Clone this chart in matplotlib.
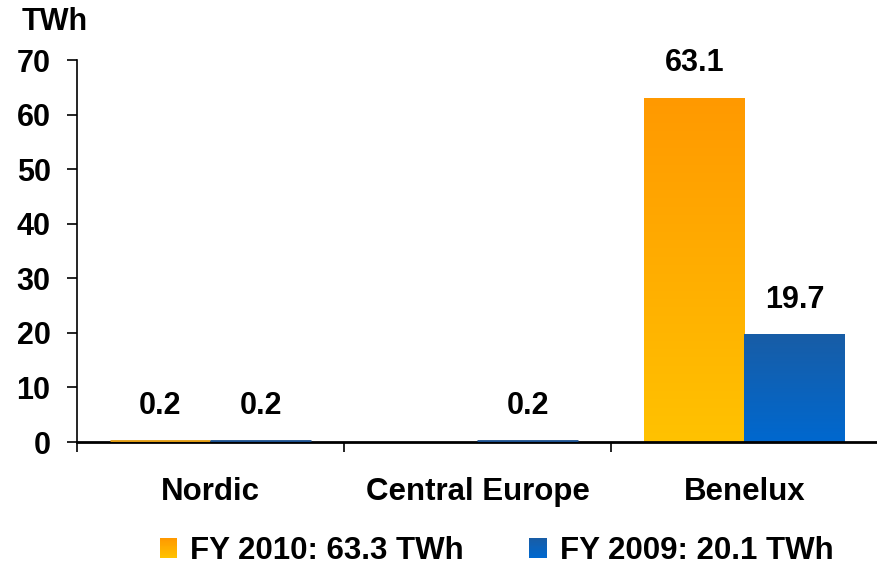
import matplotlib
matplotlib.use("Agg")
import matplotlib.pyplot as plt
import numpy as np
from matplotlib.patches import Rectangle
from matplotlib.colors import LinearSegmentedColormap
from matplotlib.legend_handler import HandlerBase

categories = ["Nordic", "Central Europe", "Benelux"]
fy2010 = [0.2, None, 63.1]
fy2009 = [0.2, 0.2, 19.7]
legend_labels = ["FY 2010: 63.3 TWh", "FY 2009: 20.1 TWh"]
yticks = [0, 10, 20, 30, 40, 50, 60, 70]

plt.rcParams['font.family'] = ['Liberation Sans', 'DejaVu Sans']
plt.rcParams['font.weight'] = 'bold'

fig = plt.figure(figsize=(8.78, 5.69), dpi=100)
ax = fig.add_axes([77/878, 1-442/569, 1-77/878, (442-60)/569])

orange_cmap = LinearSegmentedColormap.from_list("o", ["#FFC200", "#FF9900"])
blue_cmap = LinearSegmentedColormap.from_list("b", ["#0068CF", "#185DA6"])

w = 0.375
x = np.arange(len(categories))

def grad_bars(xs, vals, cmap, edge):
    for xi, v in zip(xs, vals):
        if v is None:
            continue
        bar = ax.bar(xi, v, width=w, color='none', edgecolor='none')[0]
        grad = np.linspace(0, 1, 256).reshape(-1, 1)
        im = ax.imshow(grad, cmap=cmap, origin='lower', aspect='auto',
                       extent=[xi - w/2, xi + w/2, 0, max(v, 0.001)], zorder=2)
        im.set_clip_path(bar)
        if v < 1:
            ax.plot([xi - w/2, xi + w/2], [0.12, 0.12], color=edge, lw=2, zorder=3, solid_capstyle='butt')
        ax.annotate(f"{v:.1f}", (xi, v), xytext=(0, 14), textcoords='offset points',
                    ha='center', va='bottom', fontsize=22, fontweight='bold')

grad_bars(x - w/2, fy2010, orange_cmap, "#E09A10")
grad_bars(x + w/2, fy2009, blue_cmap, "#1A4F8E")

ax.set_xlim(-0.5, 2.5)
ax.set_ylim(0, 70)
ax.set_yticks(yticks)
ax.set_yticklabels([str(t) for t in yticks], fontsize=22, fontweight='bold')
ax.tick_params(axis='y', length=7, width=1.2, pad=12)
ax.set_xticks(x)
ax.set_xticklabels(categories, fontsize=22.5, fontweight='bold')
ax.tick_params(axis='x', which='major', length=0, pad=25)
ax.set_xticks([-0.5, 0.5, 1.5, 2.5], minor=True)
ax.tick_params(axis='x', which='minor', length=7, width=1.2, direction='out')

for s in ['top', 'right']:
    ax.spines[s].set_visible(False)
ax.spines['left'].set_linewidth(1.2)
ax.spines['bottom'].set_linewidth(2)

fig.text(55/878, 1-22/569, "TWh", ha='center', va='center', fontsize=22, fontweight='bold')


class GradHandler(HandlerBase):
    def __init__(self, cmap):
        super().__init__()
        self.cmap = cmap

    def create_artists(self, legend, orig_handle, xdescent, ydescent, width, height, fontsize, trans):
        n = 24
        arts = []
        for i in range(n):
            r = Rectangle((-xdescent, -ydescent + height * i / n), width, height / n * 1.05,
                          facecolor=self.cmap(i / (n - 1)), edgecolor='none', lw=0, transform=trans)
            arts.append(r)
        return arts


h1 = Rectangle((0, 0), 1, 1, color="#FFAE00")
h2 = Rectangle((0, 0), 1, 1, color="#0D63BE")
fig.legend([h1, h2], legend_labels, loc='center', bbox_to_anchor=(0.5655, 1-551/569),
           ncol=2, frameon=False, handlelength=0.57, handleheight=0.6,
           handletextpad=0.4, columnspacing=2.1, prop={'weight': 'bold', 'size': 22.5},
           borderpad=0.0,
           handler_map={h1: GradHandler(orange_cmap), h2: GradHandler(blue_cmap)})

fig.savefig("out.png", dpi=100)
